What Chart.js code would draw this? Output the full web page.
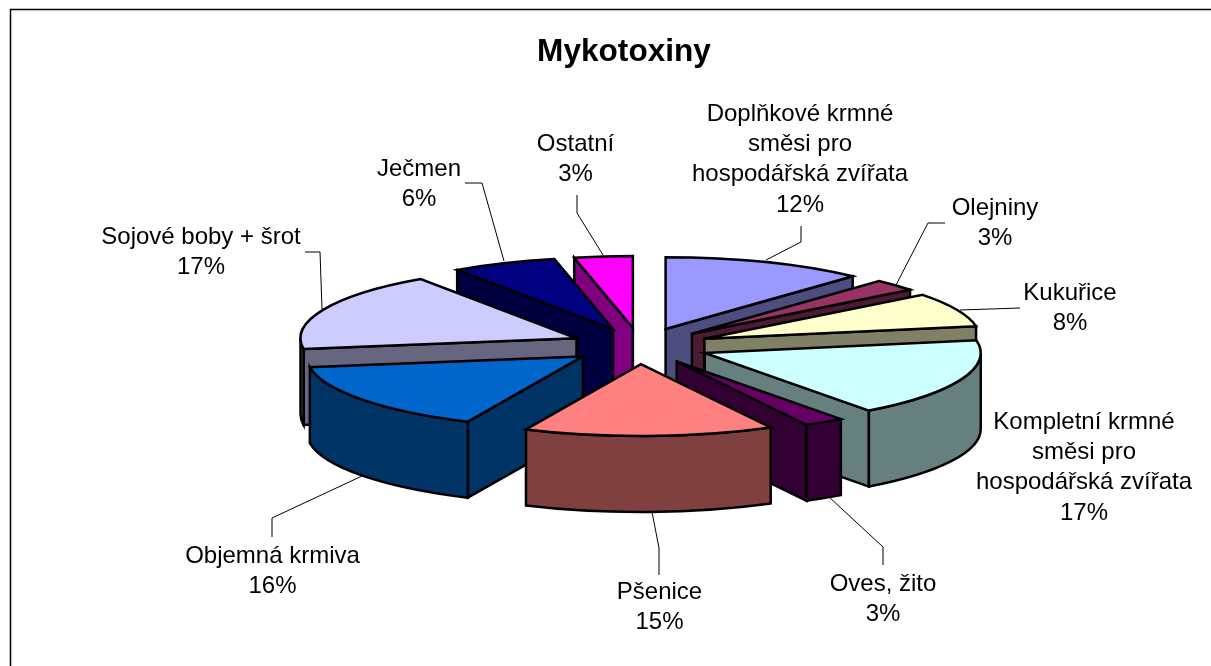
<!DOCTYPE html>
<html><head><meta charset="utf-8">
<style>html,body{margin:0;padding:0;background:#fff;overflow:hidden}canvas{display:block}</style>
<script src="https://cdn.jsdelivr.net/npm/chart.js@4/dist/chart.umd.min.js"></script>
</head><body><canvas id="c" width="1211" height="666"></canvas>
<script>
const chartTitle = "Mykotoxiny";
const categories = [
  ["Doplňkové krmné","směsi pro","hospodářská zvířata"],
  ["Olejniny"],["Kukuřice"],
  ["Kompletní krmné","směsi pro","hospodářská zvířata"],
  ["Oves, žito"],["Pšenice"],["Objemná krmiva"],["Sojové boby + šrot"],["Ječmen"],["Ostatní"]
];
const values = [12,3,8,17,3,15,16,17,6,3];
const topColors  = ["#9999FF","#993366","#FFFFCC","#CCFFFF","#660066","#FF8080","#0066CC","#CCCCFF","#000080","#FF00FF"];
const sideColors = ["#4D4D80","#4D1A33","#808066","#668080","#330033","#804040","#003366","#666680","#000040","#800080"];
const paintOrder = [0,9,8,7,1,2,3,6,4,5];
const labelAnchors = [[800,114],[995,208],[1070,293],[1084,422],[883,584],[659.5,592],[272.5,556],[201,237],[419,169],[575.5,144]];
const leaders = [
  [[766,260],[801,242],[801,226]],
  [[896,285],[928,223],[945,223]],
  [[960,310],[1020,308]],
  null,
  [[829,497],[883,547],[883,565]],
  [[652,512],[659,548],[659,575]],
  [[362,476],[272,518],[272,537]],
  [[322,309],[320,252],[305,252]],
  [[504,261],[482,183],[465,183]],
  [[603,255],[577,213],[577,195]]
];
// the 3D projection of the reference turns the rim slightly: clockwise degrees -> shift in degrees
const rimAngles = [0,43,54,83,144,155,180,209,266,327,349,360];
const rimShifts = [0,-0.5,-1.8,-3,-0.5,-2.9,-4.2,-4.2,-5,-2,-1.5,0];
const MID_FACTOR = 0.6;
const TILT = 0.26, DEPTH = 76, EXPLODE = 70, RADIUS = 276, SHIFT_X = 16;
const LABEL_FONT = '24px "Liberation Sans", Arial, sans-serif', LINE_H = 30.3;

function rimShift(a) {
  const deg = (a + Math.PI / 2) * 180 / Math.PI;
  let k = 0;
  while (k < rimAngles.length - 2 && deg > rimAngles[k + 1]) k++;
  const t = (deg - rimAngles[k]) / (rimAngles[k + 1] - rimAngles[k]);
  return (rimShifts[k] + t * (rimShifts[k + 1] - rimShifts[k])) * Math.PI / 180;
}

function drawSlice(ctx, arc, top, side) {
  const s = arc.startAngle + rimShift(arc.startAngle), e = arc.endAngle + rimShift(arc.endAngle);
  const m0 = (arc.startAngle + arc.endAngle) / 2, mid = m0 + rimShift(m0) * MID_FACTOR, R = arc.outerRadius;
  const cx = arc.x + SHIFT_X + Math.cos(mid) * EXPLODE, cy = arc.y + Math.sin(mid) * EXPLODE * TILT;
  const px = a => cx + Math.cos(a) * R, py = a => cy + Math.sin(a) * R * TILT;
  const paint = (fill) => { ctx.closePath(); ctx.fillStyle = fill; ctx.fill(); ctx.stroke(); };
  const radial = a => {
    ctx.beginPath(); ctx.moveTo(cx, cy); ctx.lineTo(px(a), py(a));
    ctx.lineTo(px(a), py(a) + DEPTH); ctx.lineTo(cx, cy + DEPTH); paint(side);
  };
  if (Math.cos(s) < 0) radial(s);
  if (Math.cos(e) > 0) radial(e);
  const ranges = [[0, Math.PI], [2 * Math.PI, 3 * Math.PI]];
  for (const [lo, hi] of ranges) {
    const a0 = Math.max(s, lo), a1 = Math.min(e, hi);
    if (a1 <= a0) continue;
    ctx.beginPath();
    ctx.ellipse(cx, cy, R, R * TILT, 0, a0, a1);
    ctx.lineTo(px(a1), py(a1) + DEPTH);
    ctx.ellipse(cx, cy + DEPTH, R, R * TILT, 0, a1, a0, true);
    paint(side);
  }
  ctx.beginPath(); ctx.moveTo(cx, cy);
  ctx.ellipse(cx, cy, R, R * TILT, 0, s, e);
  paint(top);
}

const pie3d = {
  id: 'pie3d',
  beforeDraw(chart) {
    const ctx = chart.ctx;
    ctx.save(); ctx.strokeStyle = '#000'; ctx.lineWidth = 1.5;
    ctx.beginPath(); ctx.moveTo(10.5, 666); ctx.lineTo(10.5, 9.5); ctx.lineTo(1211, 9.5); ctx.stroke();
    ctx.restore();
  },
  beforeDatasetsDraw(chart) {
    const ctx = chart.ctx, arcs = chart.getDatasetMeta(0).data;
    ctx.save(); ctx.lineWidth = 2.5; ctx.strokeStyle = '#000'; ctx.lineJoin = 'miter'; ctx.miterLimit = 6;
    paintOrder.forEach(i => drawSlice(ctx, arcs[i], topColors[i], sideColors[i]));
    ctx.restore();
    ctx.save(); ctx.strokeStyle = '#000'; ctx.lineWidth = 1;
    leaders.forEach(pts => {
      if (!pts) return;
      ctx.beginPath(); pts.forEach((p, k) => k ? ctx.lineTo(p[0], p[1]) : ctx.moveTo(p[0], p[1])); ctx.stroke();
    });
    ctx.fillStyle = '#000'; ctx.font = LABEL_FONT; ctx.textAlign = 'center'; ctx.textBaseline = 'middle';
    categories.forEach((lines, i) => {
      const [x, y] = labelAnchors[i];
      lines.concat([values[i] + '%']).forEach((t, k) => ctx.fillText(t, x, y + k * LINE_H));
    });
    ctx.restore();
    return false;
  }
};

new Chart(document.getElementById('c'), {
  type: 'pie',
  data: { labels: categories.map(c => c.join(' ')), datasets: [{ data: values, backgroundColor: topColors, radius: RADIUS }] },
  options: {
    responsive: false, animation: false,
    layout: { padding: { left: 37, right: 0, top: 0, bottom: 45 } },
    plugins: {
      legend: { display: false }, tooltip: { enabled: false },
      title: { display: true, text: chartTitle, color: '#000', padding: { top: 33, bottom: 0 },
        font: { family: '"Liberation Sans", Arial, sans-serif', size: 31.6, weight: 'bold' } }
    }
  },
  plugins: [pie3d]
});
</script></body></html>
